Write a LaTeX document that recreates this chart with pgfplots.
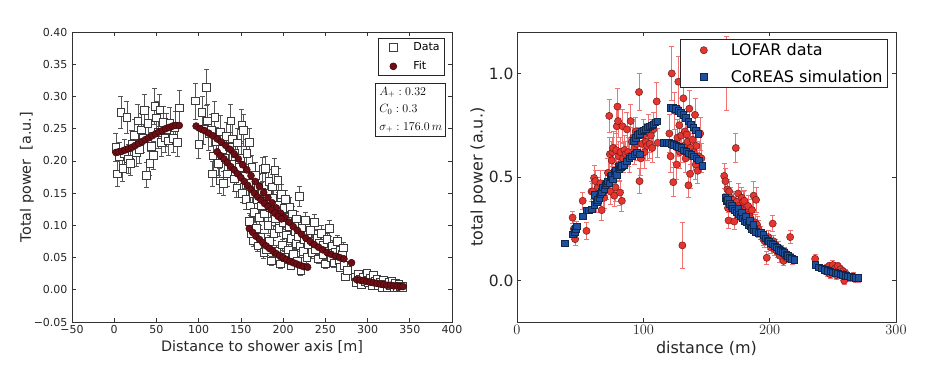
\documentclass[border=0pt]{standalone}
\usepackage[no-math]{fontspec}
\setmainfont{DejaVu Sans}
\usepackage{pgfplots}
\usepackage{pgfplotstable}
\pgfplotsset{compat=1.18}

\definecolor{fitred}{RGB}{110,14,20}
\definecolor{fitedge}{RGB}{55,8,10}
\definecolor{sqedge}{RGB}{60,60,60}
\definecolor{errgray}{RGB}{85,85,85}
\definecolor{lofar}{RGB}{230,52,46}
\definecolor{lofaredge}{RGB}{110,30,30}
\definecolor{lofarerr}{RGB}{240,115,115}
\definecolor{coreas}{RGB}{30,80,160}
\definecolor{coreasedge}{RGB}{15,40,80}

% left panel: measured total power with errors
\pgfplotstableread{
x y e
2 0.221 0.022
4 0.180 0.019
6 0.207 0.022
8 0.275 0.025
10 0.188 0.019
12 0.212 0.022
15 0.268 0.025
17 0.203 0.022
19 0.196 0.019
21 0.226 0.022
24 0.240 0.025
26 0.213 0.022
28 0.262 0.025
30 0.218 0.022
32 0.248 0.025
34 0.235 0.022
36 0.278 0.025
38 0.178 0.019
40 0.258 0.025
42 0.196 0.019
44 0.223 0.022
46 0.209 0.022
48 0.285 0.028
50 0.267 0.025
52 0.244 0.025
54 0.279 0.025
56 0.229 0.022
58 0.260 0.025
60 0.236 0.022
62 0.248 0.025
64 0.231 0.022
66 0.258 0.025
70 0.235 0.022
72 0.252 0.025
75 0.229 0.022
77 0.282 0.028
96 0.293 0.028
100 0.226 0.022
104 0.275 0.025
106 0.250 0.025
109 0.314 0.028
110 0.262 0.025
112 0.242 0.025
115 0.247 0.025
116 0.180 0.019
117 0.208 0.022
119 0.268 0.025
121 0.230 0.022
123 0.196 0.019
125 0.169 0.019
126 0.245 0.025
128 0.218 0.022
129 0.165 0.019
131 0.205 0.022
133 0.238 0.022
134 0.180 0.019
136 0.222 0.022
138 0.262 0.025
139 0.195 0.019
140 0.234 0.022
142 0.172 0.019
143 0.212 0.022
145 0.158 0.015
146 0.228 0.022
148 0.190 0.019
150 0.205 0.022
151 0.255 0.025
152 0.150 0.015
153 0.247 0.025
155 0.176 0.019
156 0.140 0.015
157 0.212 0.022
159 0.165 0.019
160 0.229 0.022
160 0.106 0.012
161 0.130 0.015
162 0.088 0.012
163 0.190 0.019
164 0.150 0.015
165 0.076 0.009
166 0.120 0.015
167 0.178 0.019
168 0.095 0.012
169 0.140 0.015
170 0.068 0.009
171 0.160 0.019
172 0.112 0.012
173 0.082 0.012
174 0.130 0.015
175 0.152 0.015
176 0.187 0.019
177 0.058 0.009
178 0.118 0.012
179 0.188 0.019
180 0.062 0.009
181 0.150 0.015
182 0.100 0.012
183 0.168 0.019
184 0.075 0.009
185 0.128 0.015
186 0.045 0.007
187 0.160 0.019
188 0.142 0.015
189 0.088 0.012
190 0.185 0.019
191 0.110 0.012
192 0.060 0.009
193 0.132 0.015
194 0.170 0.019
195 0.095 0.012
196 0.120 0.015
197 0.040 0.007
198 0.148 0.015
199 0.070 0.009
200 0.105 0.012
201 0.126 0.015
202 0.050 0.009
203 0.140 0.015
204 0.085 0.012
205 0.112 0.012
206 0.062 0.009
207 0.098 0.012
208 0.128 0.015
209 0.038 0.007
210 0.080 0.012
211 0.118 0.012
212 0.055 0.009
213 0.102 0.012
214 0.090 0.012
215 0.072 0.009
216 0.110 0.012
217 0.045 0.007
218 0.082 0.012
219 0.145 0.015
220 0.068 0.009
221 0.030 0.007
222 0.095 0.012
224 0.060 0.009
225 0.078 0.009
226 0.108 0.012
228 0.050 0.009
229 0.085 0.012
230 0.070 0.009
232 0.092 0.012
234 0.058 0.009
235 0.075 0.009
237 0.105 0.012
238 0.062 0.009
240 0.080 0.012
242 0.048 0.007
243 0.072 0.009
245 0.088 0.012
247 0.055 0.009
248 0.070 0.009
250 0.040 0.007
252 0.078 0.009
254 0.060 0.009
255 0.095 0.012
257 0.050 0.009
258 0.068 0.009
260 0.042 0.007
262 0.058 0.009
264 0.075 0.009
266 0.045 0.007
267 0.062 0.009
268 0.035 0.007
270 0.055 0.009
271 0.065 0.009
272 0.038 0.007
274 0.020 0.005
276 0.030 0.007
285 0.020 0.006
287 0.012 0.005
289 0.024 0.006
291 0.016 0.005
293 0.008 0.005
295 0.020 0.006
297 0.013 0.005
299 0.026 0.006
301 0.011 0.005
303 0.018 0.006
305 0.007 0.005
307 0.022 0.006
309 0.013 0.005
311 0.016 0.006
313 0.006 0.005
315 0.012 0.005
317 0.004 0.005
319 0.015 0.005
321 0.009 0.005
323 0.003 0.005
325 0.012 0.005
327 0.006 0.005
329 0.014 0.005
331 0.004 0.005
333 0.010 0.005
335 0.003 0.005
337 0.008 0.005
339 0.005 0.005
341 0.006 0.005
342 0.003 0.005
}\leftdata

% left panel: fit values
\pgfplotstableread{
x y
2 0.213
5 0.214
9 0.215
13 0.217
17 0.219
21 0.221
25 0.224
29 0.227
33 0.230
37 0.233
41 0.236
45 0.239
49 0.242
53 0.245
57 0.247
61 0.250
65 0.252
69 0.254
73 0.255
77 0.255
97 0.254
102 0.250
107 0.247
112 0.243
117 0.239
122 0.234
127 0.229
132 0.224
137 0.218
142 0.211
147 0.203
152 0.194
157 0.186
162 0.177
167 0.168
172 0.160
177 0.151
182 0.143
187 0.135
192 0.127
197 0.119
202 0.112
207 0.105
212 0.098
217 0.092
222 0.086
227 0.080
232 0.075
237 0.070
242 0.066
247 0.062
252 0.058
257 0.055
262 0.052
267 0.050
272 0.048
122 0.214
126 0.208
130 0.203
134 0.197
138 0.191
142 0.186
146 0.180
150 0.174
154 0.168
158 0.162
162 0.156
166 0.150
170 0.144
174 0.139
178 0.134
182 0.129
186 0.124
190 0.119
194 0.114
198 0.110
160 0.095
164 0.089
168 0.083
172 0.078
176 0.073
180 0.068
184 0.064
188 0.060
192 0.056
196 0.053
200 0.050
204 0.047
208 0.044
212 0.042
216 0.040
220 0.038
224 0.036
229 0.035
281 0.042
287 0.016
291 0.015
295 0.014
299 0.013
303 0.012
307 0.011
311 0.010
315 0.009
319 0.008
323 0.007
327 0.007
331 0.006
335 0.006
339 0.005
342 0.005
}\leftfit

% right panel: LOFAR measurements
\pgfplotstableread{
x y e
44 0.304 0.03
45 0.25 0.05
46 0.20 0.03
47 0.245 0.04
52 0.385 0.04
55 0.24 0.04
59 0.43 0.05
60 0.43 0.04
61 0.495 0.06
62 0.48 0.05
63 0.39 0.06
64 0.45 0.05
65 0.41 0.04
66 0.47 0.06
67 0.34 0.05
68 0.42 0.06
69 0.40 0.05
70 0.47 0.06
71 0.44 0.05
72 0.52 0.07
73 0.795 0.08
73.5 0.61 0.08
74 0.43 0.06
75 0.58 0.09
75.5 0.62 0.07
76 0.64 0.08
77 0.41 0.05
77.5 0.53 0.06
78 0.45 0.07
78.5 0.63 0.08
79 0.745 0.09
79.5 0.84 0.09
80 0.77 0.08
80.5 0.60 0.07
81 0.56 0.08
81.5 0.425 0.06
82 0.62 0.07
83 0.385 0.05
83.5 0.745 0.08
84 0.59 0.07
85 0.63 0.07
86 0.61 0.06
87 0.73 0.08
88 0.62 0.07
89 0.60 0.08
90 0.77 0.08
91 0.67 0.07
92 0.69 0.09
93 0.64 0.08
94 0.72 0.07
95 0.66 0.08
96.6 0.91 0.09
97 0.48 0.06
98 0.59 0.08
99 0.66 0.07
100 0.70 0.08
101 0.62 0.08
102 0.67 0.09
103 0.65 0.07
104 0.72 0.08
105 0.66 0.07
106 0.70 0.08
107 0.64 0.07
108 0.73 0.08
110.6 0.865 0.09
111.4 0.665 0.07
120.6 0.71 0.09
121.6 0.60 0.08
122.5 1.0 0.13
123.7 0.475 0.07
124.5 0.82 0.09
125 0.65 0.08
126.4 0.56 0.07
127 0.69 0.09
127.7 0.96 0.12
128.5 0.75 0.08
129 0.62 0.08
130 0.70 0.09
130.9 0.17 0.11
131.7 0.88 0.10
132 0.65 0.08
133 0.72 0.09
133.5 0.59 0.07
134.3 0.705 0.08
135 0.67 0.08
135.7 0.46 0.06
136.4 0.83 0.09
137 0.515 0.07
137.5 0.64 0.08
138 0.60 0.07
139 0.68 0.08
140 0.62 0.09
140.9 0.80 0.08
141.5 0.56 0.07
142 0.65 0.08
143 0.53 0.06
144 0.60 0.07
145 0.71 0.08
146 0.59 0.07
166 1.0 0.18
164 0.505 0.06
165 0.48 0.06
166.5 0.44 0.05
167 0.35 0.05
167.5 0.29 0.04
168 0.43 0.05
169 0.40 0.05
170 0.38 0.05
171 0.39 0.04
172 0.285 0.04
173.2 0.64 0.07
174 0.38 0.05
175 0.42 0.05
176 0.36 0.05
177 0.35 0.06
178 0.40 0.05
179 0.38 0.05
180 0.385 0.05
181 0.34 0.05
182 0.33 0.04
183 0.36 0.05
184 0.32 0.04
185 0.30 0.04
186 0.34 0.05
187.3 0.41 0.07
188.6 0.28 0.04
189.2 0.39 0.06
190 0.27 0.04
191 0.25 0.04
193 0.23 0.03
195 0.20 0.03
196 0.19 0.03
197.7 0.11 0.03
199 0.21 0.03
200 0.18 0.03
201 0.16 0.03
202.4 0.275 0.04
203 0.19 0.03
204 0.15 0.03
205 0.17 0.03
206 0.14 0.03
207 0.16 0.03
208 0.12 0.03
209 0.15 0.02
210 0.13 0.02
211 0.095 0.02
212 0.14 0.02
213 0.11 0.02
214 0.12 0.02
216.2 0.21 0.03
217 0.11 0.02
218 0.10 0.02
236 0.105 0.02
244 0.05 0.02
245 0.06 0.02
246 0.04 0.02
247 0.07 0.02
248 0.03 0.02
249 0.055 0.02
250 0.075 0.02
251 0.045 0.02
252 0.06 0.02
253 0.025 0.02
254 0.07 0.02
255 0.04 0.02
256 0.055 0.02
257 0.03 0.02
258 0.045 0.02
259 0.00 0.02
260 0.035 0.02
262 0.02 0.02
264 0.015 0.02
266 0.02 0.02
268 0.01 0.02
270 0.012 0.02
}\lofar

% right panel: CoREAS simulation
\pgfplotstableread{
x y
38 0.18
44 0.224
45.5 0.235
46.5 0.25
47.5 0.262
52 0.31
55 0.34
57 0.34
59 0.345
61 0.365
61.5 0.415
63 0.38
64 0.39
65 0.40
66 0.42
67 0.43
68 0.45
69 0.44
70 0.46
71 0.47
72 0.48
73 0.47
74 0.50
75 0.505
76 0.49
77 0.52
78 0.53
79 0.51
80 0.55
81 0.54
82 0.55
83 0.555
85 0.56
87 0.577
89 0.59
91 0.60
93 0.61
95 0.62
97 0.61
92.5 0.676
94 0.69
95.5 0.705
97 0.71
98.7 0.72
100 0.725
102 0.73
103.5 0.74
105 0.745
106.5 0.75
108 0.755
109.5 0.765
111 0.77
116 0.665
118 0.665
120 0.665
122 0.66
124 0.655
126 0.65
128 0.645
130 0.64
132 0.63
134 0.625
136 0.615
138 0.61
140 0.60
142 0.59
144 0.58
146.7 0.553
121.7 0.835
123.5 0.835
125.5 0.83
127.5 0.82
129.5 0.81
131.5 0.80
133.5 0.785
135.5 0.77
137.5 0.755
139.5 0.74
141.5 0.725
143.5 0.71
164.7 0.40
166 0.385
167 0.39
168.5 0.37
170 0.36
171 0.35
172.5 0.34
174 0.33
175.5 0.32
177 0.31
178.5 0.30
180 0.29
181.5 0.285
183 0.27
184.5 0.265
186 0.25
187.5 0.245
189 0.235
191 0.23
193 0.23
195 0.22
196.5 0.205
198 0.195
199.5 0.19
201 0.18
202.5 0.175
204 0.165
205.5 0.16
207 0.15
208.5 0.145
210 0.14
211.5 0.135
213 0.125
214.5 0.12
216 0.11
217.5 0.105
219.5 0.10
175 0.35
178 0.33
181 0.31
184 0.29
187 0.27
236 0.077
239 0.065
241 0.06
243.5 0.052
246 0.048
248 0.045
250 0.04
252 0.038
254 0.035
256 0.03
258 0.028
260 0.022
262 0.02
264 0.018
266 0.016
268 0.015
270 0.013
}\coreas

\pgfplotsset{
  mpl/.style={
    scale only axis,
    axis line style={black!80, line width=0.8pt},
    tick style={black!80, line width=0.7pt},
    major tick length=4pt,
    tick align=inside,
    ticklabel style={text=black!85},
    label style={text=black!85},
    legend cell align=left,
  },
}

\begin{document}
\begin{tikzpicture}
\path[use as bounding box] (-72pt,-46pt) rectangle (854pt,322pt);

\begin{axis}[mpl,
  width=380pt, height=290pt,
  xmin=-50, xmax=400, ymin=-0.05, ymax=0.40,
  xtick={-50,0,50,100,150,200,250,300,350,400},
  xticklabels={−50,0,50,100,150,200,250,300,350,400},
  ytick={-0.05,0,0.05,0.1,0.15,0.2,0.25,0.3,0.35,0.4},
  yticklabels={−0.05,0.00,0.05,0.10,0.15,0.20,0.25,0.30,0.35,0.40},
  ticklabel style={font=\fontsize{11}{13}\selectfont},
  yticklabel style={xshift=-1pt},
  label style={font=\fontsize{14.4}{17}\selectfont},
  xlabel={Distance to shower axis [m]},
  ylabel={Total power\ \ [a.u.]},
  ylabel shift=-7pt,
  legend style={at={(rel axis cs:1,1)}, anchor=north east, xshift=-7pt, yshift=-6pt,
    draw=black!85, line width=0.8pt, font=\fontsize{11}{13}\selectfont, row sep=5.5pt},
  legend image code/.code={\path[draw=none, fill=none] (0pt,-3pt) rectangle (30pt,3pt); \draw[#1] plot coordinates {(12pt,0pt)};},
]
\addplot[only marks, mark=square*, mark size=3.8pt,
  mark options={fill=white, draw=sqedge, line width=0.7pt},
  error bars/.cd, y dir=both, y explicit,
  error bar style={errgray, line width=0.7pt},
  error mark options={rotate=90, errgray, mark size=2.5pt, line width=0.7pt}]
  table[x=x, y=y, y error=e]{\leftdata};
\addlegendentry{Data}
\addplot[only marks, mark=*, mark size=3.5pt,
  mark options={fill=fitred, draw=fitedge, line width=0.5pt}]
  table[x=x, y=y]{\leftfit};
\addlegendentry{Fit}
\node[draw=black!85, line width=0.8pt, fill=white, anchor=north east, align=left,
  inner sep=3.5pt, font=\fontsize{12}{17.5}\selectfont]
  at ([xshift=-6pt,yshift=-51pt]rel axis cs:1,1)
  {$A_{+}: 0.32$\\$C_0: 0.3$\\$\sigma_{+}: 176.0\,m$};
\end{axis}

\begin{axis}[mpl, at={(445pt,0pt)},
  width=379pt, height=290pt,
  xmin=0, xmax=300, ymin=-0.2, ymax=1.2,
  xtick={0,100,200,300},
  ytick={0,0.5,1},
  yticklabels={0.0,0.5,1.0},
  ticklabel style={font=\fontsize{15.5}{18}\selectfont},
  label style={font=\fontsize{16}{19}\selectfont},
  xlabel={distance (m)},
  ylabel={total power (a.u.)},
  ylabel shift=-4pt,
  legend style={at={(rel axis cs:1,1)}, anchor=north east, xshift=-8pt, yshift=-7pt,
    draw=black!85, line width=0.8pt, fill=white, font=\fontsize{16}{19}\selectfont, row sep=9pt},
  legend image code/.code={\path[draw=none, fill=none] (0pt,-3pt) rectangle (45pt,3pt); \draw[#1] plot coordinates {(20pt,0pt)};},
]
\addplot[only marks, mark=*, mark size=3.6pt,
  mark options={fill=lofar, draw=lofaredge, line width=0.5pt},
  error bars/.cd, y dir=both, y explicit,
  error bar style={lofarerr, line width=0.8pt},
  error mark options={rotate=90, lofarerr, mark size=2.5pt, line width=0.8pt}]
  table[x=x, y=y, y error=e]{\lofar};
\addlegendentry{LOFAR data}
\addplot[only marks, mark=square*, mark size=3.3pt,
  mark options={fill=coreas, draw=coreasedge, line width=0.5pt}]
  table[x=x, y=y]{\coreas};
\addlegendentry{CoREAS simulation}
\end{axis}
\end{tikzpicture}
\end{document}
